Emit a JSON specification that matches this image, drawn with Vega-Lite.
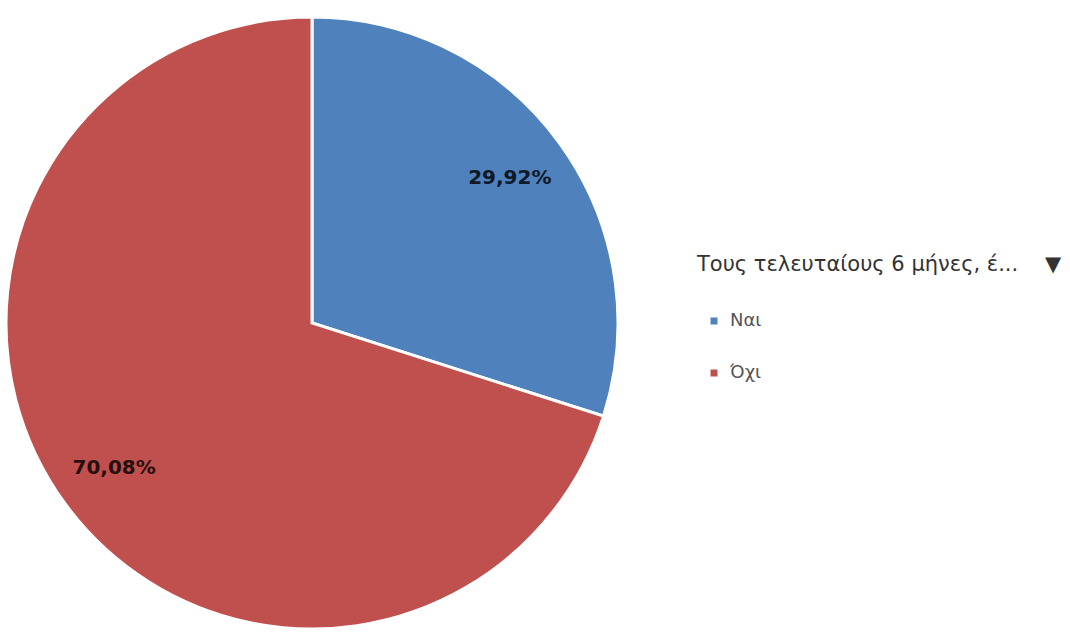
{
  "$schema": "https://vega.github.io/schema/vega-lite/v6.json",
  "padding": 0,
  "width": 620,
  "height": 646,
  "background": "white",
  "data": {
    "values": [
      {"answer": "Ναι", "pct": 29.92, "label": "29,92%", "ord": 1},
      {"answer": "Όχι", "pct": 70.08, "label": "70,08%", "ord": 2}
    ]
  },
  "encoding": {
    "theta": {"field": "pct", "type": "quantitative", "stack": true},
    "order": {"field": "ord", "type": "quantitative"}
  },
  "layer": [
    {
      "mark": {"type": "arc", "outerRadius": 306, "stroke": "white", "strokeWidth": 3},
      "encoding": {
        "color": {
          "field": "answer",
          "type": "nominal",
          "sort": ["Ναι", "Όχι"],
          "scale": {"domain": ["Ναι", "Όχι"], "range": ["#4F81BD", "#C0504D"]},
          "legend": {
            "title": "Τους τελευταίους 6 μήνες, έ...\u00a0\u00a0\u00a0\u00a0▼",
            "orient": "none",
            "legendX": 695,
            "legendY": 254,
            "titleFont": "DejaVu Sans",
            "titleFontSize": 21,
            "titleFontWeight": "normal",
            "titleColor": "#333333",
            "titleLimit": 600,
            "titlePadding": 37,
            "labelFont": "DejaVu Sans",
            "labelFontSize": 18,
            "labelColor": "#555555",
            "symbolType": "square",
            "symbolSize": 49,
            "symbolStrokeWidth": 0,
            "symbolOffset": 8,
            "rowPadding": 34,
            "offset": 0,
            "padding": 0,
            "labelOffset": 7
          }
        }
      }
    },
    {
      "mark": {
        "type": "text",
        "radius": 245,
        "font": "DejaVu Sans",
        "fontWeight": "bold",
        "fontSize": 20,
        "color": "#000000",
        "opacity": 0.8
      },
      "encoding": {
        "text": {"field": "label", "type": "nominal"}
      }
    }
  ]
}
